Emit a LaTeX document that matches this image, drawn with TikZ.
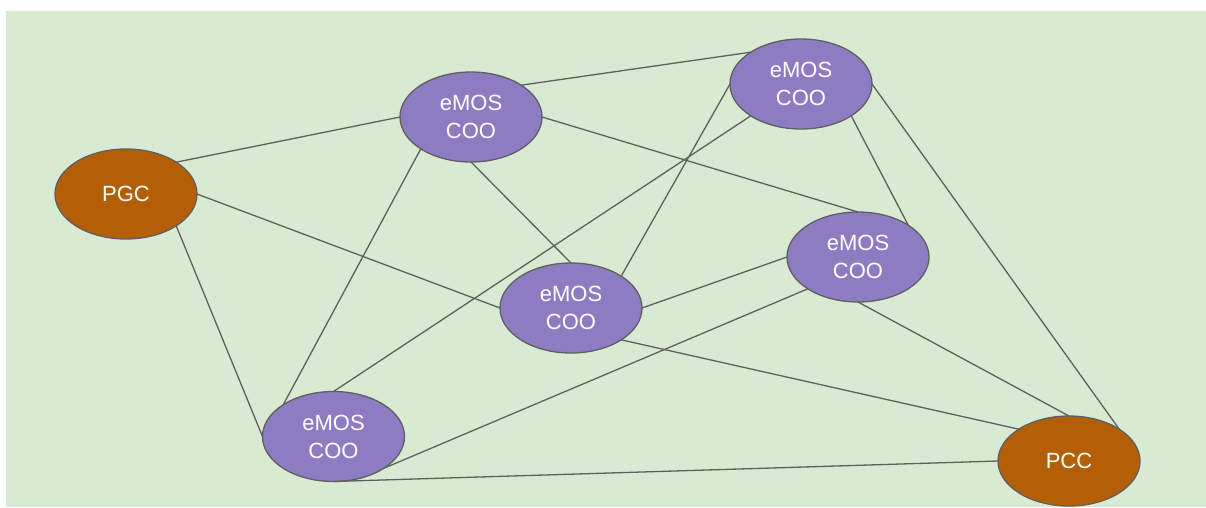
\documentclass[tikz,border=0pt]{standalone}
\usepackage{fontspec}
\setmainfont{Liberation Sans}
\usetikzlibrary{shapes.geometric}
\definecolor{bggreen}{HTML}{D9EAD3}
\definecolor{nodepurple}{HTML}{8E7CC3}
\definecolor{nodeorange}{HTML}{B45F06}
\definecolor{edgegray}{HTML}{5F5F5F}
\tikzset{
  blob/.style={ellipse, draw=edgegray, line width=1.3pt, minimum width=142pt, minimum height=90pt,
    inner sep=0pt, outer sep=0pt, text=white, align=center, font=\fontsize{22}{28}\selectfont},
  emos/.style={blob, fill=nodepurple},
  hub/.style={blob, fill=nodeorange},
  link/.style={draw=edgegray, line width=1.3pt}
}
\begin{document}
\begin{tikzpicture}[x=1pt,y=-1pt]
\useasboundingbox (0,0) rectangle (1206,507);
\fill[bggreen] (6,11) rectangle (1206,507);
\node[hub] (pgc) at (126,194) {PGC};
\node[emos] (e1) at (471,117) {eMOS\\COO};
\node[emos] (e2) at (801,84) {eMOS\\COO};
\node[emos] (e3) at (858,257) {eMOS\\COO};
\node[emos] (e4) at (571,308) {eMOS\\COO};
\node[emos] (e5) at (333.5,436.5) {eMOS\\COO};
\node[hub] (pcc) at (1069,461) {PCC};
\draw[link] (pgc.north east) -- (e1.west);
\draw[link] (pgc.east) -- (e4.west);
\draw[link] (pgc.south east) -- (e5.west);
\draw[link] (e1.north east) -- (e2.north west);
\draw[link] (e1.east) -- (e3.north);
\draw[link] (e1.south) -- (e4.north);
\draw[link] (e1.south west) -- (e5.north west);
\draw[link] (e2.west) -- (e4.north east);
\draw[link] (e2.south west) -- (e5.north);
\draw[link] (e2.south east) -- (e3.north east);
\draw[link] (e2.east) -- (pcc.north east);
\draw[link] (e3.west) -- (e4.east);
\draw[link] (e3.south west) -- (e5.south east);
\draw[link] (e3.south) -- (pcc.north);
\draw[link] (e4.south east) -- (pcc.north west);
\draw[link] (e5.south) -- (pcc.west);
\end{tikzpicture}
\end{document}
